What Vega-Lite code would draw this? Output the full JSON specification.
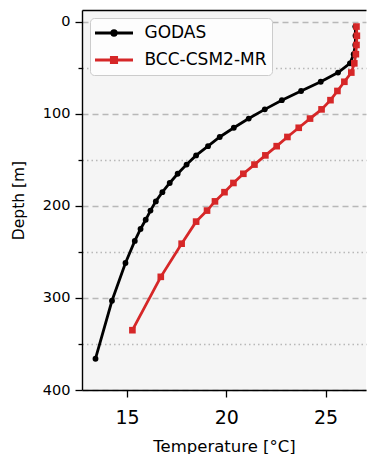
{
  "$schema": "https://vega.github.io/schema/vega-lite/v6.json",
  "width": 284,
  "height": 380,
  "autosize": {"type": "none"},
  "padding": {"left": 82, "top": 10, "right": 1, "bottom": 64},
  "background": "white",
  "config": {"view": {"fill": "#f5f5f5", "stroke": null}, "font": "DejaVu Sans"},
  "data": {"values": [
    {"series": "GODAS", "depth": 5, "temp": 26.50},
    {"series": "GODAS", "depth": 15, "temp": 26.51},
    {"series": "GODAS", "depth": 25, "temp": 26.50},
    {"series": "GODAS", "depth": 35, "temp": 26.42},
    {"series": "GODAS", "depth": 45, "temp": 26.23},
    {"series": "GODAS", "depth": 55, "temp": 25.63},
    {"series": "GODAS", "depth": 65, "temp": 24.76},
    {"series": "GODAS", "depth": 75, "temp": 23.77},
    {"series": "GODAS", "depth": 85, "temp": 22.80},
    {"series": "GODAS", "depth": 95, "temp": 21.94},
    {"series": "GODAS", "depth": 105, "temp": 21.13},
    {"series": "GODAS", "depth": 115, "temp": 20.38},
    {"series": "GODAS", "depth": 125, "temp": 19.67},
    {"series": "GODAS", "depth": 135, "temp": 19.08},
    {"series": "GODAS", "depth": 145, "temp": 18.48},
    {"series": "GODAS", "depth": 155, "temp": 18.00},
    {"series": "GODAS", "depth": 165, "temp": 17.55},
    {"series": "GODAS", "depth": 175, "temp": 17.15},
    {"series": "GODAS", "depth": 185, "temp": 16.78},
    {"series": "GODAS", "depth": 195, "temp": 16.45},
    {"series": "GODAS", "depth": 205, "temp": 16.18},
    {"series": "GODAS", "depth": 215, "temp": 15.94},
    {"series": "GODAS", "depth": 225, "temp": 15.68},
    {"series": "GODAS", "depth": 238, "temp": 15.39},
    {"series": "GODAS", "depth": 262, "temp": 14.92},
    {"series": "GODAS", "depth": 303, "temp": 14.24},
    {"series": "GODAS", "depth": 366, "temp": 13.41},
    {"series": "BCC-CSM2-MR", "depth": 5, "temp": 26.56},
    {"series": "BCC-CSM2-MR", "depth": 15, "temp": 26.58},
    {"series": "BCC-CSM2-MR", "depth": 25, "temp": 26.56},
    {"series": "BCC-CSM2-MR", "depth": 35, "temp": 26.53},
    {"series": "BCC-CSM2-MR", "depth": 45, "temp": 26.45},
    {"series": "BCC-CSM2-MR", "depth": 55, "temp": 26.30},
    {"series": "BCC-CSM2-MR", "depth": 65, "temp": 25.95},
    {"series": "BCC-CSM2-MR", "depth": 75, "temp": 25.60},
    {"series": "BCC-CSM2-MR", "depth": 85, "temp": 25.25},
    {"series": "BCC-CSM2-MR", "depth": 95, "temp": 24.80},
    {"series": "BCC-CSM2-MR", "depth": 105, "temp": 24.22},
    {"series": "BCC-CSM2-MR", "depth": 115, "temp": 23.65},
    {"series": "BCC-CSM2-MR", "depth": 125, "temp": 23.08},
    {"series": "BCC-CSM2-MR", "depth": 135, "temp": 22.54},
    {"series": "BCC-CSM2-MR", "depth": 145, "temp": 21.97},
    {"series": "BCC-CSM2-MR", "depth": 155, "temp": 21.42},
    {"series": "BCC-CSM2-MR", "depth": 165, "temp": 20.86},
    {"series": "BCC-CSM2-MR", "depth": 175, "temp": 20.36},
    {"series": "BCC-CSM2-MR", "depth": 185, "temp": 19.91},
    {"series": "BCC-CSM2-MR", "depth": 195, "temp": 19.43},
    {"series": "BCC-CSM2-MR", "depth": 205, "temp": 19.03},
    {"series": "BCC-CSM2-MR", "depth": 217, "temp": 18.48},
    {"series": "BCC-CSM2-MR", "depth": 241, "temp": 17.75},
    {"series": "BCC-CSM2-MR", "depth": 277, "temp": 16.70},
    {"series": "BCC-CSM2-MR", "depth": 335, "temp": 15.27}
  ]},
  "encoding": {
    "x": {"field": "temp", "type": "quantitative", "scale": {"domain": [12.73, 27.04], "nice": false, "zero": false}, "axis": null},
    "y": {"field": "depth", "type": "quantitative", "scale": {"domain": [-13, 400], "reverse": true, "nice": false, "zero": false},
      "axis": {
        "values": [0, 50, 100, 150, 200, 250, 300, 350, 400],
        "labelExpr": "datum.value % 100 === 0 ? datum.label : ''",
        "labelOverlap": false, "labelFlush": false,
        "labelFontSize": 14.5, "labelColor": "black", "labelPadding": 5,
        "tickColor": "black", "tickWidth": 1.3,
        "tickSize": {"condition": {"test": "datum.value % 100 === 0", "value": 7}, "value": 4},
        "domainColor": "black", "domainWidth": 1.4,
        "grid": true, "gridColor": "#b8b8b8", "gridWidth": 1.3,
        "gridDash": {"condition": {"test": "datum.value % 100 === 0", "value": [6, 4]}, "value": [1.5, 3]},
        "title": "Depth [m]", "titleFontSize": 15.5, "titleFontWeight": "normal", "titleColor": "black", "titlePadding": 16
      }
    },
    "color": {"field": "series", "type": "nominal",
      "scale": {"domain": ["GODAS", "BCC-CSM2-MR"], "range": ["#000000", "#d62728"]},
      "legend": {
        "title": null, "orient": "top-left", "offset": 8,
        "fillColor": "#fdfdfd", "strokeColor": "#cccccc", "cornerRadius": 4, "padding": 5,
        "labelFontSize": 17, "labelColor": "black", "labelFont": "DejaVu Sans",
        "symbolSize": 1444, "clipHeight": 20, "rowPadding": 7, "labelOffset": 10, "symbolOffset": -1.5,
        "symbolStrokeWidth": 2.8,
        "encode": {"symbols": {"update": {
          "shape": {"signal": "datum.value === 'GODAS' ? 'M-1,0H1M-0.12,0A0.12,0.12 0 1,0 0.12,0A0.12,0.12 0 1,0 -0.12,0Z' : 'M-1,0H1M-0.14,-0.14H0.14V0.14H-0.14Z'"},
          "fill": {"signal": "datum.value === 'GODAS' ? '#000000' : '#d62728'"},
          "stroke": {"signal": "datum.value === 'GODAS' ? '#000000' : '#d62728'"},
          "strokeWidth": {"value": 2.8},
          "size": {"value": 1444},
          "opacity": {"value": 1}
        }}}
      }
    },
    "order": {"field": "depth", "type": "quantitative"}
  },
  "resolve": {"axis": {"x": "independent"}},
  "layer": [
    {
      "transform": [{"filter": "datum.series === 'GODAS'"}],
      "mark": {"type": "line", "strokeWidth": 2.8},
      "encoding": {
        "x": {"field": "temp", "type": "quantitative", "scale": {"domain": [12.73, 27.04], "nice": false, "zero": false},
          "axis": {
            "orient": "bottom", "values": [15, 20, 25], "grid": false,
            "labelFontSize": 19, "labelColor": "black", "labelPadding": 11,
            "tickColor": "black", "tickWidth": 1.3, "tickSize": 7,
            "domainColor": "black", "domainWidth": 1.4,
            "title": "Temperature [°C]", "titleFontSize": 16.5, "titleFontWeight": "normal", "titleColor": "black", "titlePadding": 11
          }
        }
      }
    },
    {
      "transform": [{"filter": "datum.series === 'GODAS'"}],
      "mark": {"type": "point", "shape": "circle", "filled": true, "opacity": 1, "size": 34},
      "encoding": {
        "x": {"field": "temp", "type": "quantitative", "scale": {"domain": [12.73, 27.04], "nice": false, "zero": false},
          "axis": {"orient": "top", "labels": false, "ticks": false, "grid": false, "title": null, "domainColor": "black", "domainWidth": 1.4}
        }
      }
    },
    {
      "transform": [{"filter": "datum.series === 'BCC-CSM2-MR'"}],
      "mark": {"type": "line", "strokeWidth": 2.8}
    },
    {
      "transform": [{"filter": "datum.series === 'BCC-CSM2-MR'"}],
      "mark": {"type": "point", "shape": "square", "filled": true, "opacity": 1, "size": 44}
    }
  ]
}
